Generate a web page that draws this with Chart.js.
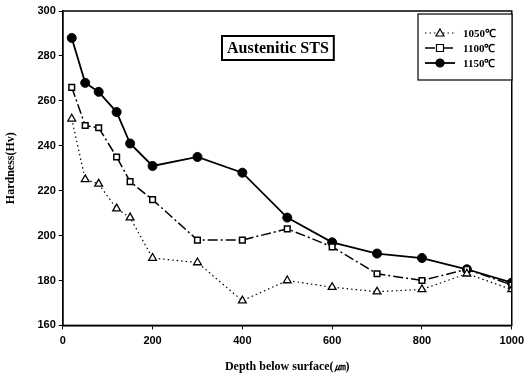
<!DOCTYPE html>
<html>
<head>
<meta charset="utf-8">
<script src="https://cdn.jsdelivr.net/npm/chart.js@4.4.0/dist/chart.umd.min.js"></script>
<style>
  html, body { margin: 0; padding: 0; background: #fff; }
  #wrap { width: 529px; height: 382px; }
</style>
</head>
<body>
<div id="wrap"><canvas id="hv"></canvas></div>
<script>
// depth below surface (um)
const depths = [20, 50, 80, 120, 150, 200, 300, 400, 500, 600, 700, 800, 900, 1000]
const hv1050 = [252, 225, 223, 212, 208, 190, 188, 171, 180, 177, 175, 176, 183, 176]
const hv1100 = [266, 249, 248, 235, 224, 216, 198, 198, 203, 195, 183, 180, 185, 178]
const hv1150 = [288, 268, 264, 255, 241, 231, 235, 228, 208, 197, 192, 190, 185, 179]
const seriesNames = ['1050℃', '1100℃', '1150℃']
const xTicks = [0, 200, 400, 600, 800, 1000]
const yTicks = [160, 180, 200, 220, 240, 260, 280, 300]

const pts = arr => arr.map((v, i) => ({ x: depths[i], y: v }))

// frame, title box and legend box
const boxes = {
    id: 'boxes',
    afterDatasetsDraw(chart) {
        const { ctx, chartArea: a } = chart
        ctx.save()
        ctx.strokeStyle = '#000'
        ctx.lineWidth = 1.5
        ctx.strokeRect(a.left, a.top, a.right - a.left, a.bottom - a.top)

        // title box
        ctx.font = 'bold 16px "Liberation Serif", "Times New Roman", serif'
        const t = 'Austenitic STS'
        const tw = ctx.measureText(t).width
        const tx = 222, ty = 36
        ctx.fillStyle = '#fff'
        ctx.fillRect(tx, ty, tw + 10, 24)
        ctx.lineWidth = 2
        ctx.strokeRect(tx, ty, tw + 10, 24)
        ctx.fillStyle = '#000'
        ctx.textBaseline = 'middle'
        ctx.fillText(t, tx + 5, ty + 13)

        // legend box
        const lx = 418, ly = 14, lw = 94, lh = 66
        ctx.lineWidth = 1.2
        ctx.fillStyle = '#fff'
        ctx.fillRect(lx, ly, lw, lh)
        ctx.strokeRect(lx, ly, lw, lh)
        ctx.font = 'bold 11px "Liberation Serif", serif'
        chart.data.datasets.forEach((ds, i) => {
            const y = ly + 19 + i * 15
            ctx.strokeStyle = '#000'
            ctx.lineWidth = ds.borderWidth
            ctx.setLineDash(ds.borderDash || [])
            ctx.beginPath()
            ctx.moveTo(lx + 7, y)
            ctx.lineTo(lx + 37, y)
            ctx.stroke()
            ctx.setLineDash([])
            ctx.lineWidth = 1.2
            const cx = lx + 22
            ctx.beginPath()
            if (ds.pointStyle === 'triangle') {
                ctx.moveTo(cx, y - 4); ctx.lineTo(cx + 4, y + 3); ctx.lineTo(cx - 4, y + 3); ctx.closePath()
            } else if (ds.pointStyle === 'rect') {
                ctx.rect(cx - 3.5, y - 3.5, 7, 7)
            } else {
                ctx.arc(cx, y, 4, 0, Math.PI * 2)
            }
            ctx.fillStyle = ds.pointBackgroundColor
            ctx.fill()
            ctx.stroke()
            ctx.fillStyle = '#000'
            ctx.fillText(ds.label, lx + 45, y + 1)
        })
        ctx.restore()
    }
}

const tickFont = { family: 'Arial, "Liberation Sans"', weight: 'bold', size: 11 }
const titleFont = { family: '"Liberation Serif", serif', weight: 'bold', size: 12 }

const hvConfig = {
    type: 'line',
    data: {
        datasets: [
            {
                label: seriesNames[0],
                data: pts(hv1050),
                borderColor: '#000',
                borderWidth: 1.2,
                borderDash: [1.5, 3],
                pointStyle: 'triangle',
                pointRadius: 4.5,
                pointBorderWidth: 1.3,
                pointBorderColor: '#000',
                pointBackgroundColor: '#fff',
            },
            {
                label: seriesNames[1],
                data: pts(hv1100),
                borderColor: '#000',
                borderWidth: 1.5,
                borderDash: [10, 3, 2, 3],
                pointStyle: 'rect',
                pointRadius: 4,
                pointBorderWidth: 1.5,
                pointBorderColor: '#000',
                pointBackgroundColor: '#fff',
            },
            {
                label: seriesNames[2],
                data: pts(hv1150),
                borderColor: '#000',
                borderWidth: 1.8,
                pointStyle: 'circle',
                pointRadius: 4.5,
                pointBorderWidth: 1,
                pointBorderColor: '#000',
                pointBackgroundColor: '#000',
            },
        ],
    },
    options: {
        responsive: true,
        maintainAspectRatio: false,
        animation: false,
        layout: { padding: { top: 11, right: 11, left: 4, bottom: 8 } },
        plugins: {
            legend: { display: false },
            tooltip: { enabled: false },
        },
        scales: {
            x: {
                type: 'linear',
                min: 0,
                max: 1000,
                afterBuildTicks: s => { s.ticks = xTicks.map(v => ({ value: v })) },
                grid: { drawOnChartArea: false, tickLength: 4, color: '#000' },
                border: { color: '#000', width: 1.5 },
                ticks: { color: '#000', font: tickFont, padding: 5, maxRotation: 0, callback: v => String(v) },
                title: {
                    display: true,
                    text: 'Depth below surface(㎛)',
                    color: '#000',
                    font: titleFont,
                    padding: { top: 7, bottom: 0 },
                },
            },
            y: {
                min: 160,
                max: 300,
                afterBuildTicks: s => { s.ticks = yTicks.map(v => ({ value: v })) },
                grid: { drawOnChartArea: false, tickLength: 4, color: '#000' },
                border: { color: '#000', width: 1.5 },
                ticks: { color: '#000', font: tickFont, padding: 3, callback: v => String(v) },
                title: {
                    display: true,
                    text: 'Hardness(Hv)',
                    color: '#000',
                    font: titleFont,
                    padding: { top: 0, bottom: 16 },
                },
            },
        },
    },
    plugins: [boxes],
}

const hvCtx = document.getElementById('hv')
window.hvChart = new Chart(hvCtx, hvConfig)
</script>
</body>
</html>
